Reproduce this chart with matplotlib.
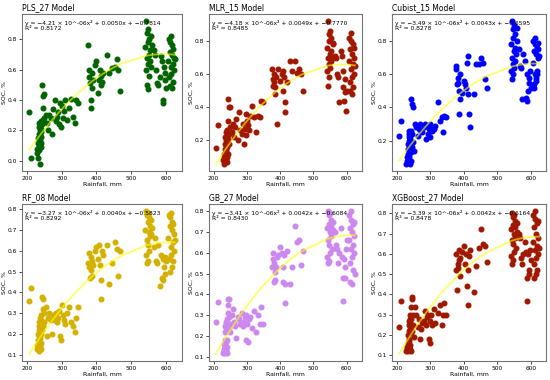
import numpy as np
import matplotlib
matplotlib.use("Agg")
import matplotlib.pyplot as plt

# rainfall (mm) of the sampled sites, grouped by rainfall zone
rainfall = [207, 213,
            228, 230, 231, 232, 233, 234, 234, 235, 235, 236, 236, 237, 237, 238, 238,
            239, 239, 240, 240, 241, 241, 242, 242, 243, 244, 245, 246, 247, 248, 250,
            255, 258, 262, 265, 268, 272, 276, 280, 284, 288, 290, 293, 296, 298, 300,
            303, 306, 310, 315, 322, 328, 334, 338, 342, 348,
            376, 378, 380, 382, 383, 385, 386, 388, 390, 395, 400, 405, 408, 410, 412,
            414, 416, 420,
            430, 436, 445, 452, 458, 462, 468,
            540, 542, 543, 544, 545, 546, 547, 548, 548, 549, 550, 551, 552, 553, 554,
            556, 558, 560,
            565, 568, 570, 574, 578, 582, 585, 588, 590, 592, 594, 596, 598, 600,
            606, 608, 609, 610, 611, 612, 613, 614, 615, 616, 617, 618, 619, 620, 621,
            622, 623, 625]

soc_pls = [0.32, 0.02,
           0.08, 0.05, 0.12, 0.15, 0.02, 0.18, 0.10, 0.22, 0.07, 0.14, 0.25, 0.20, 0.11, 0.17, -0.02,
           0.23, 0.13, 0.19, 0.09, 0.26, 0.16, 0.21, 0.12, 0.24, 0.50, 0.27, 0.43, 0.35, 0.44, 0.28,
           0.30, 0.25, 0.20, 0.30, 0.28, 0.18, 0.34, 0.40, 0.26, 0.29, 0.32, 0.24, 0.38, 0.22, 0.36,
           0.28, 0.33, 0.40, 0.27, 0.35, 0.41, 0.29, 0.25, 0.40, 0.38,
           0.76, 0.60, 0.55, 0.51, 0.40, 0.35, 0.58, 0.48, 0.53, 0.63, 0.66, 0.45, 0.53, 0.60, 0.56,
           0.50, 0.52, 0.58,
           0.70, 0.58, 0.61, 0.62, 0.67, 0.60, 0.46,
           0.75, 0.60, 0.92, 0.68, 0.50, 0.84, 0.64, 0.78, 0.47, 0.87, 0.70, 0.56, 0.80, 0.66, 0.73,
           0.62, 0.82, 0.76,
           0.73, 0.70, 0.60, 0.51, 0.50, 0.55, 0.69, 0.66, 0.40, 0.38, 0.62, 0.58, 0.53, 0.48,
           0.66, 0.80, 0.55, 0.72, 0.49, 0.78, 0.62, 0.82, 0.57, 0.70, 0.48, 0.76, 0.64, 0.52, 0.74,
           0.60, 0.68, 0.67]

soc_mlr = [0.155, 0.29,
           0.08, 0.10, 0.06, 0.12, 0.15, 0.07, 0.18, 0.11, 0.22, 0.09, 0.14, 0.20, 0.25, 0.13, 0.17,
           0.07, 0.19, 0.23, 0.10, 0.16, 0.26, 0.12, 0.21, 0.32, 0.45, 0.24, 0.40, 0.18, 0.40, 0.28,
           0.25, 0.30, 0.22, 0.28, 0.33, 0.20, 0.37, 0.26, 0.24, 0.30, 0.18, 0.27, 0.36, 0.23, 0.32,
           0.29, 0.26, 0.35, 0.41, 0.34, 0.25, 0.35, 0.34, 0.44, 0.43,
           0.63, 0.53, 0.57, 0.55, 0.60, 0.48, 0.52, 0.58, 0.30, 0.63, 0.56, 0.60, 0.62, 0.50, 0.58,
           0.43, 0.37, 0.55,
           0.68, 0.62, 0.68, 0.61, 0.63, 0.60, 0.50,
           0.76, 0.62, 0.92, 0.70, 0.53, 0.84, 0.66, 0.80, 0.58, 0.86, 0.72, 0.64, 0.82, 0.68, 0.74,
           0.70, 0.78, 0.79,
           0.71, 0.70, 0.60, 0.58, 0.43, 0.74, 0.71, 0.62, 0.52, 0.44, 0.49, 0.57, 0.38, 0.50,
           0.68, 0.82, 0.55, 0.75, 0.50, 0.80, 0.63, 0.85, 0.58, 0.72, 0.48, 0.78, 0.66, 0.52, 0.76,
           0.60, 0.70, 0.65]

soc_cubist = [0.23, 0.32,
              0.06, 0.08, 0.10, 0.12, 0.07, 0.15, 0.18, 0.20, 0.09, 0.22, 0.24, 0.11, 0.26, 0.14, 0.21,
              0.06, 0.17, 0.25, 0.23, 0.13, 0.19, 0.26, 0.08, 0.45, 0.16, 0.42, 0.24, 0.40, 0.19, 0.14,
              0.30, 0.28, 0.23, 0.27, 0.30, 0.26, 0.25, 0.28, 0.30, 0.21, 0.29, 0.24, 0.27, 0.30, 0.22,
              0.27, 0.26, 0.27, 0.29, 0.43, 0.32, 0.34, 0.25, 0.35, 0.34,
              0.65, 0.63, 0.54, 0.58, 0.55, 0.50, 0.36, 0.60, 0.45, 0.49, 0.56, 0.54, 0.52, 0.67, 0.71,
              0.48, 0.36, 0.28,
              0.48, 0.66, 0.66, 0.70, 0.67, 0.57, 0.52,
              0.78, 0.62, 0.92, 0.70, 0.57, 0.87, 0.66, 0.82, 0.60, 0.90, 0.74, 0.64, 0.84, 0.68, 0.76,
              0.72, 0.80, 0.88,
              0.75, 0.65, 0.64, 0.45, 0.72, 0.68, 0.46, 0.60, 0.44, 0.50, 0.58, 0.55, 0.62, 0.52,
              0.67, 0.80, 0.54, 0.74, 0.52, 0.78, 0.60, 0.82, 0.58, 0.72, 0.56, 0.76, 0.62, 0.60, 0.75,
              0.70, 0.79, 0.71]

soc_rf = [0.36, 0.42,
          0.13, 0.15, 0.14, 0.17, 0.20, 0.12, 0.22, 0.16, 0.24, 0.19, 0.26, 0.14, 0.21, 0.28, 0.18,
          0.23, 0.15, 0.25, 0.13, 0.27, 0.20, 0.29, 0.16, 0.22, 0.38, 0.24, 0.37, 0.32, 0.26, 0.30,
          0.33, 0.19, 0.28, 0.30, 0.27, 0.20, 0.29, 0.27, 0.30, 0.26, 0.28, 0.31, 0.19, 0.17, 0.34,
          0.29, 0.27, 0.25, 0.30, 0.33, 0.26, 0.24, 0.21, 0.28, 0.33,
          0.54, 0.59, 0.52, 0.47, 0.57, 0.51, 0.48, 0.55, 0.53, 0.60, 0.62, 0.56, 0.63, 0.53, 0.46,
          0.37, 0.60, 0.58,
          0.63, 0.44, 0.54, 0.64, 0.61, 0.48, 0.60,
          0.70, 0.58, 0.79, 0.65, 0.54, 0.77, 0.63, 0.74, 0.55, 0.78, 0.69, 0.60, 0.76, 0.67, 0.72,
          0.68, 0.75, 0.71,
          0.62, 0.66, 0.55, 0.54, 0.63, 0.43, 0.58, 0.47, 0.56, 0.46, 0.52, 0.57, 0.49, 0.55,
          0.66, 0.77, 0.56, 0.72, 0.50, 0.76, 0.62, 0.78, 0.58, 0.70, 0.52, 0.74, 0.64, 0.55, 0.73,
          0.60, 0.68, 0.65]

soc_gb = [0.27, 0.365,
          0.12, 0.14, 0.13, 0.16, 0.18, 0.12, 0.15, 0.22, 0.25, 0.14, 0.27, 0.17, 0.24, 0.13, 0.26,
          0.15, 0.23, 0.28, 0.12, 0.25, 0.18, 0.26, 0.31, 0.35, 0.38, 0.24, 0.38, 0.29, 0.26, 0.22,
          0.30, 0.33, 0.27, 0.25, 0.19, 0.29, 0.28, 0.26, 0.31, 0.25, 0.27, 0.29, 0.18, 0.30, 0.26,
          0.17, 0.28, 0.29, 0.24, 0.32, 0.22, 0.30, 0.26, 0.34, 0.26,
          0.53, 0.57, 0.60, 0.46, 0.55, 0.51, 0.47, 0.53, 0.58, 0.59, 0.63, 0.60, 0.53, 0.46, 0.59,
          0.36, 0.45, 0.61,
          0.45, 0.53, 0.73, 0.65, 0.66, 0.54, 0.61,
          0.72, 0.58, 0.80, 0.66, 0.55, 0.78, 0.64, 0.74, 0.56, 0.79, 0.70, 0.60, 0.76, 0.68, 0.73,
          0.62, 0.75, 0.71,
          0.70, 0.64, 0.62, 0.55, 0.60, 0.72, 0.58, 0.48, 0.37, 0.57, 0.53, 0.48, 0.62, 0.66,
          0.66, 0.78, 0.55, 0.72, 0.46, 0.76, 0.62, 0.80, 0.58, 0.70, 0.45, 0.74, 0.64, 0.52, 0.75,
          0.60, 0.68, 0.50]

soc_xgb = [0.24, 0.37,
           0.12, 0.14, 0.13, 0.16, 0.20, 0.12, 0.15, 0.18, 0.22, 0.25, 0.14, 0.27, 0.17, 0.28, 0.13,
           0.30, 0.15, 0.23, 0.26, 0.12, 0.21, 0.24, 0.28, 0.34, 0.38, 0.22, 0.39, 0.30, 0.25, 0.19,
           0.34, 0.30, 0.24, 0.28, 0.18, 0.23, 0.26, 0.27, 0.32, 0.25, 0.29, 0.30, 0.18, 0.27, 0.16,
           0.30, 0.25, 0.33, 0.26, 0.31, 0.35, 0.25, 0.30, 0.36, 0.30,
           0.52, 0.60, 0.42, 0.55, 0.53, 0.62, 0.57, 0.49, 0.58, 0.61, 0.64, 0.55, 0.60, 0.44, 0.35,
           0.52, 0.59, 0.62,
           0.41, 0.54, 0.63, 0.72, 0.65, 0.64, 0.56,
           0.72, 0.59, 0.80, 0.67, 0.55, 0.78, 0.65, 0.74, 0.57, 0.79, 0.70, 0.61, 0.76, 0.68, 0.73,
           0.63, 0.75, 0.71,
           0.70, 0.68, 0.58, 0.55, 0.60, 0.66, 0.61, 0.48, 0.37, 0.60, 0.52, 0.50, 0.62, 0.57,
           0.66, 0.79, 0.55, 0.73, 0.48, 0.77, 0.62, 0.81, 0.58, 0.70, 0.50, 0.75, 0.64, 0.52, 0.76,
           0.60, 0.68, 0.63]

models = ["PLS_27", "MLR_15", "Cubist_15", "RF_08", "GB_27", "XGBoost_27"]
soc_values = [soc_pls, soc_mlr, soc_cubist, soc_rf, soc_gb, soc_xgb]
colors = ["darkgreen", "#a01800", "blue", "#d4b000", "#cc88ee", "#a01800"]
coef_a = [-4.21e-6, -4.18e-6, -3.49e-6, -3.27e-6, -3.41e-6, -3.39e-6]
coef_b = [0.0050, 0.0049, 0.0043, 0.0040, 0.0042, 0.0042]
coef_c = [-0.7814, -0.7770, -0.6595, -0.5823, -0.6084, -0.6164]
r2 = [0.8172, 0.8485, 0.8278, 0.8292, 0.8430, 0.8478]

fig = plt.figure(figsize=(5.5, 3.8), dpi=100)
lefts = [0.040, 0.380, 0.713]
widths = [0.291, 0.278, 0.280]
bottoms = [0.55, 0.05]
height = 0.413

x = np.array(rainfall)
xs = np.sort(x)
for i, name in enumerate(models):
    row, col = divmod(i, 3)
    ax = fig.add_axes([lefts[col], bottoms[row], widths[col], height])
    ax.scatter(x, soc_values[i], s=11, color=colors[i], zorder=2)
    fit = coef_a[i] * xs ** 2 + coef_b[i] * xs + coef_c[i]
    ax.plot(xs, fit, color="yellow", alpha=0.6, lw=1.3, zorder=3)
    eq = (f"y = \u2212{abs(coef_a[i]) * 1e6:.2f} \u00d7 10^-06x\u00b2 + {coef_b[i]:.4f}x + "
          f"\u2212{abs(coef_c[i]):.4f}\nR\u00b2 = {r2[i]:.4f}")
    ax.text(0.02, 0.96, eq, transform=ax.transAxes, va="top", ha="left",
            fontsize=4.3, linespacing=1.0, zorder=4)
    ax.set_title(f"{name} Model", loc="left", fontsize=5.5, pad=3)
    ax.set_xlabel("Rainfall, mm", fontsize=4.4, labelpad=1)
    ax.set_ylabel("SOC, %", fontsize=4.4, labelpad=1)
    ax.set_xticks([200, 300, 400, 500, 600])
    ax.tick_params(labelsize=4.2, length=2, width=0.5, pad=1.5)
    for sp in ax.spines.values():
        sp.set_color("0.45")
        sp.set_linewidth(0.8)

fig.savefig("out.png", dpi=100)
